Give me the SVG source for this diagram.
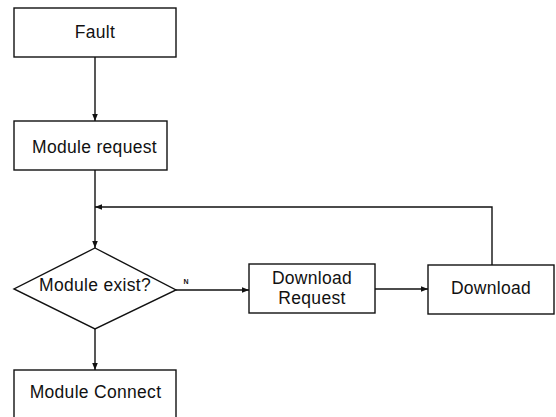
<svg xmlns="http://www.w3.org/2000/svg" width="556" height="417" viewBox="0 0 556 417">
  <style>
    .box { fill: #ffffff; stroke: #111111; stroke-width: 1.4; }
    .lbl { font-family: "Liberation Sans", Arial, sans-serif; font-size: 17.5px; letter-spacing: 0.3px; fill: #111111; text-anchor: middle; }
    .tiny { font-family: "Liberation Sans", Arial, sans-serif; font-size: 7px; font-weight: bold; fill: #111111; text-anchor: middle; }
    .wire { fill: none; stroke: #111111; stroke-width: 1.4; }
  </style>
  <defs>
    <marker id="arrow" viewBox="0 0 10 10" refX="10" refY="5" markerWidth="7" markerHeight="7" orient="auto" markerUnits="userSpaceOnUse">
      <path d="M0,1 L10,5 L0,9 Z" fill="#111111"/>
    </marker>
  </defs>
  <rect width="556" height="417" fill="#ffffff"/>

  <g id="connectors">
    <line class="wire" x1="95" y1="57" x2="95" y2="121" marker-end="url(#arrow)"/>
    <line class="wire" x1="95" y1="170" x2="95" y2="248" marker-end="url(#arrow)"/>
    <polyline class="wire" points="492,265 492,207 95,207" marker-end="url(#arrow)"/>
    <line class="wire" x1="176" y1="290" x2="249" y2="290" marker-end="url(#arrow)"/>
    <line class="wire" x1="375" y1="289" x2="428" y2="289" marker-end="url(#arrow)"/>
    <line class="wire" x1="95" y1="329" x2="95" y2="370" marker-end="url(#arrow)"/>
    <text class="tiny" x="186" y="284">N</text>
    <text class="tiny" x="95" y="318">Y</text>
  </g>

  <g id="fault">
    <rect class="box" x="14" y="8" width="162" height="49"/>
    <text class="lbl" x="95" y="38">Fault</text>
  </g>

  <g id="module-request">
    <rect class="box" x="14" y="121" width="153" height="49"/>
    <text class="lbl" x="94.5" y="153">Module request</text>
  </g>

  <g id="module-exist">
    <polygon class="box" points="95,248 176,290 95,329 14,289"/>
    <text class="lbl" x="95" y="291">Module exist?</text>
  </g>

  <g id="download-request">
    <rect class="box" x="249" y="264" width="126" height="49"/>
    <text class="lbl" x="312" y="284">Download</text>
    <text class="lbl" x="312" y="304">Request</text>
  </g>

  <g id="download">
    <rect class="box" x="428" y="265" width="126" height="49"/>
    <text class="lbl" x="491" y="294">Download</text>
  </g>

  <g id="module-connect">
    <rect class="box" x="14" y="370" width="162" height="60"/>
    <text class="lbl" x="95.5" y="398">Module Connect</text>
  </g>
</svg>
